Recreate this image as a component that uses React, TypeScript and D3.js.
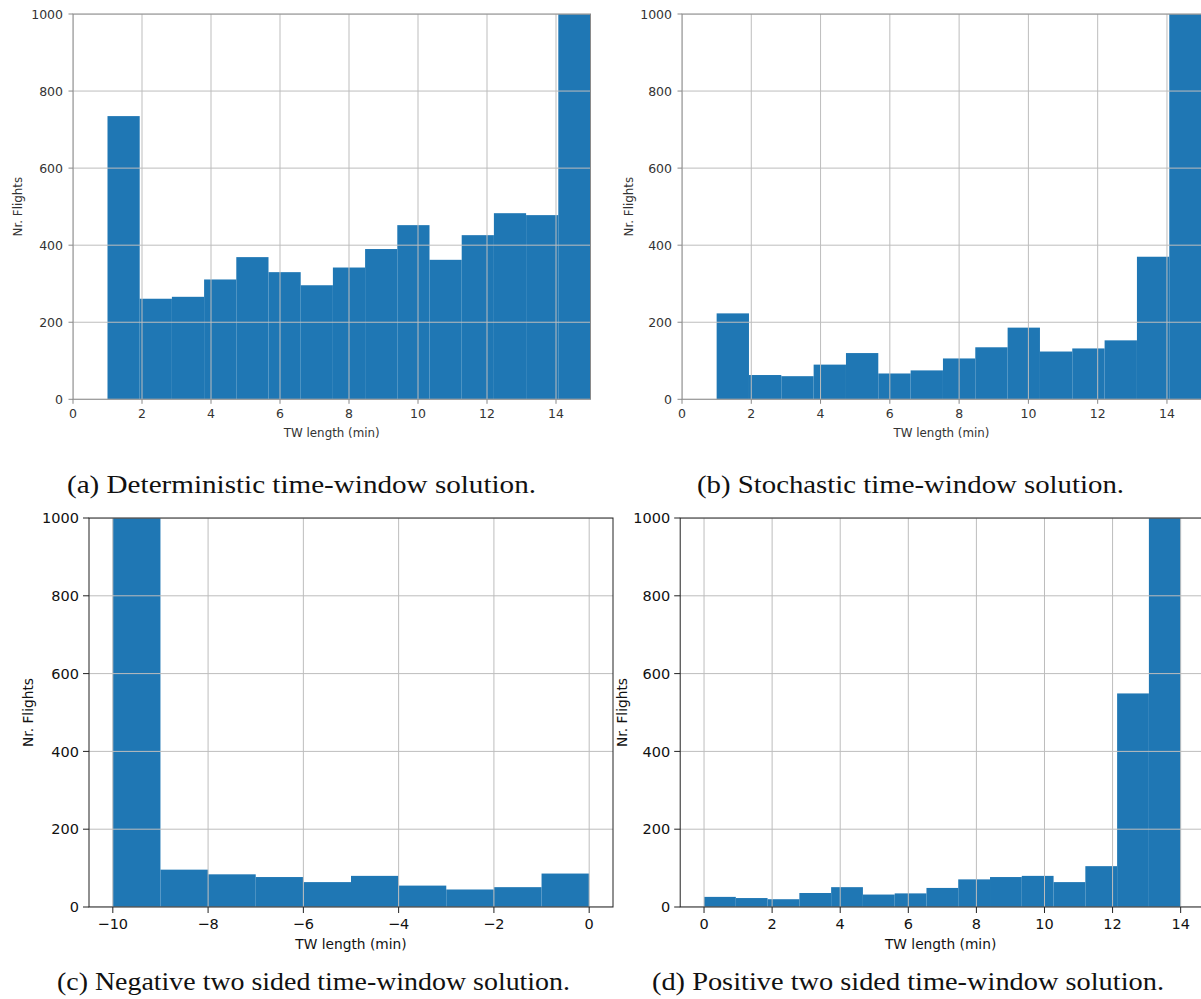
import React from 'react';
import * as d3 from 'd3';

// counts per bin (bars above 1000 are clipped by the axis)
const detCounts = [735, 261, 266, 311, 369, 330, 296, 342, 390, 452, 362, 426, 483, 478, 1350];
const stoCounts = [223, 63, 60, 90, 120, 67, 75, 106, 135, 186, 124, 132, 153, 370, 1500];
const negCounts = [1900, 96, 84, 77, 64, 80, 55, 45, 51, 86];
const posCounts = [26, 23, 20, 36, 51, 32, 35, 49, 71, 77, 80, 64, 105, 549, 2300];

const yTicks = [0, 200, 400, 600, 800, 1000];
const posTicks = [0, 2, 4, 6, 8, 10, 12, 14];
const negTicks = [-10, -8, -6, -4, -2, 0];

const captions = [
  '(a) Deterministic time-window solution.',
  '(b) Stochastic time-window solution.',
  '(c) Negative two sided time-window solution.',
  '(d) Positive two sided time-window solution.',
];

type Panel = {
  id: string;
  counts: number[];
  range: [number, number];
  xDomain: [number, number];
  xTicks: number[];
  box: { l: number; r: number; t: number; b: number };
  font: number;
  tick: number;
  spine: string;
  ink: string;
  yLabelX: number;
  xTickY: number;
  xLabelY: number;
};

const panels: Panel[] = [
  {
    id: 'a', counts: detCounts, range: [1, 15], xDomain: [0, 15], xTicks: posTicks,
    box: { l: 73, r: 590.5, t: 14, b: 399.3 }, font: 12.5, tick: 4.5,
    spine: '#8a8a8a', ink: '#333', yLabelX: 22, xTickY: 418, xLabelY: 437,
  },
  {
    id: 'b', counts: stoCounts, range: [1, 15], xDomain: [0, 15], xTicks: posTicks,
    box: { l: 682, r: 1201.6, t: 14, b: 399.3 }, font: 12.5, tick: 4.5,
    spine: '#8a8a8a', ink: '#333', yLabelX: 633, xTickY: 418, xLabelY: 437,
  },
  {
    id: 'c', counts: negCounts, range: [-10, 0], xDomain: [-10.5, 0.5], xTicks: negTicks,
    box: { l: 89, r: 613, t: 518, b: 907 }, font: 14.5, tick: 6,
    spine: '#222', ink: '#111', yLabelX: 33, xTickY: 929, xLabelY: 949,
  },
  {
    id: 'd', counts: posCounts, range: [0, 14], xDomain: [-0.7, 14.7], xTicks: posTicks,
    box: { l: 680.2, r: 1204.5, t: 518, b: 907 }, font: 14.5, tick: 6,
    spine: '#222', ink: '#111', yLabelX: 627, xTickY: 929, xLabelY: 949,
  },
];

const Hist = ({ p }: { p: Panel }) => {
  const { l, r, t, b } = p.box;
  const x = d3.scaleLinear().domain(p.xDomain).range([l, r]);
  const y = d3.scaleLinear().domain([0, 1000]).range([b, t]);
  const n = p.counts.length;
  const w = (p.range[1] - p.range[0]) / n;
  const fmt = d3.format('d');
  const sans = 'DejaVu Sans, sans-serif';

  return (
    <g>
      <defs>
        <clipPath id={`clip-${p.id}`}>
          <rect x={l} y={t} width={r - l} height={b - t} />
        </clipPath>
      </defs>
      <g clipPath={`url(#clip-${p.id})`}>
        {p.counts.map((c, i) => {
          const x0 = x(p.range[0] + i * w);
          const x1 = x(p.range[0] + (i + 1) * w);
          return (
            <rect key={i} x={x0} y={y(c)} width={x1 - x0} height={b - y(c)} fill="#1f77b4" />
          );
        })}
        {p.xTicks.map((v) => (
          <line key={`gx${v}`} x1={x(v)} x2={x(v)} y1={t} y2={b} stroke="#bdbdbd" strokeWidth={1} />
        ))}
        {yTicks.map((v) => (
          <line key={`gy${v}`} x1={l} x2={r} y1={y(v)} y2={y(v)} stroke="#bdbdbd" strokeWidth={1} />
        ))}
      </g>
      <rect x={l} y={t} width={r - l} height={b - t} fill="none" stroke={p.spine} strokeWidth={1} />

      {yTicks.map((v) => (
        <g key={`ty${v}`}>
          <line x1={l - p.tick} x2={l} y1={y(v)} y2={y(v)} stroke={p.spine} strokeWidth={1} />
          <text x={l - 10} y={y(v) + p.font * 0.36} textAnchor="end" fontFamily={sans}
            fontSize={p.font} fill={p.ink}>{fmt(v)}</text>
        </g>
      ))}
      {p.xTicks.map((v) => (
        <g key={`tx${v}`}>
          <line x1={x(v)} x2={x(v)} y1={b} y2={b + p.tick} stroke={p.spine} strokeWidth={1} />
          <text x={x(v)} y={p.xTickY} textAnchor="middle" fontFamily={sans}
            fontSize={p.font} fill={p.ink}>{fmt(v)}</text>
        </g>
      ))}
      <text x={(l + Math.min(r, 1201)) / 2 + (p.id === 'b' || p.id === 'd' ? 0 : 0)} y={p.xLabelY}
        textAnchor="middle" fontFamily={sans} fontSize={p.font * 0.95} fill={p.ink}>TW length (min)</text>
      <text transform={`translate(${p.yLabelX},${(t + b) / 2}) rotate(-90)`} textAnchor="middle"
        fontFamily={sans} fontSize={p.font * 0.95} fill={p.ink}>Nr. Flights</text>
    </g>
  );
};

const capPos = [
  { x: 67, y: 493, w: 469 },
  { x: 697, y: 493, w: 427 },
  { x: 57, y: 990, w: 513 },
  { x: 652, y: 990, w: 512 },
];

export default function App() {
  return (
    <div>
      <style>{'body{margin:0;background:#fff}'}</style>
      <svg width={1201} height={999} viewBox="0 0 1201 999" style={{ display: 'block' }}>
        <rect width={1201} height={999} fill="#fff" />
        {panels.map((p) => <Hist key={p.id} p={p} />)}
        {captions.map((c, i) => (
          <text key={i} x={capPos[i].x} y={capPos[i].y} fontFamily="Liberation Serif, serif"
            fontSize={26} fill="#111" textLength={capPos[i].w} lengthAdjust="spacingAndGlyphs">{c}</text>
        ))}
      </svg>
    </div>
  );
}
